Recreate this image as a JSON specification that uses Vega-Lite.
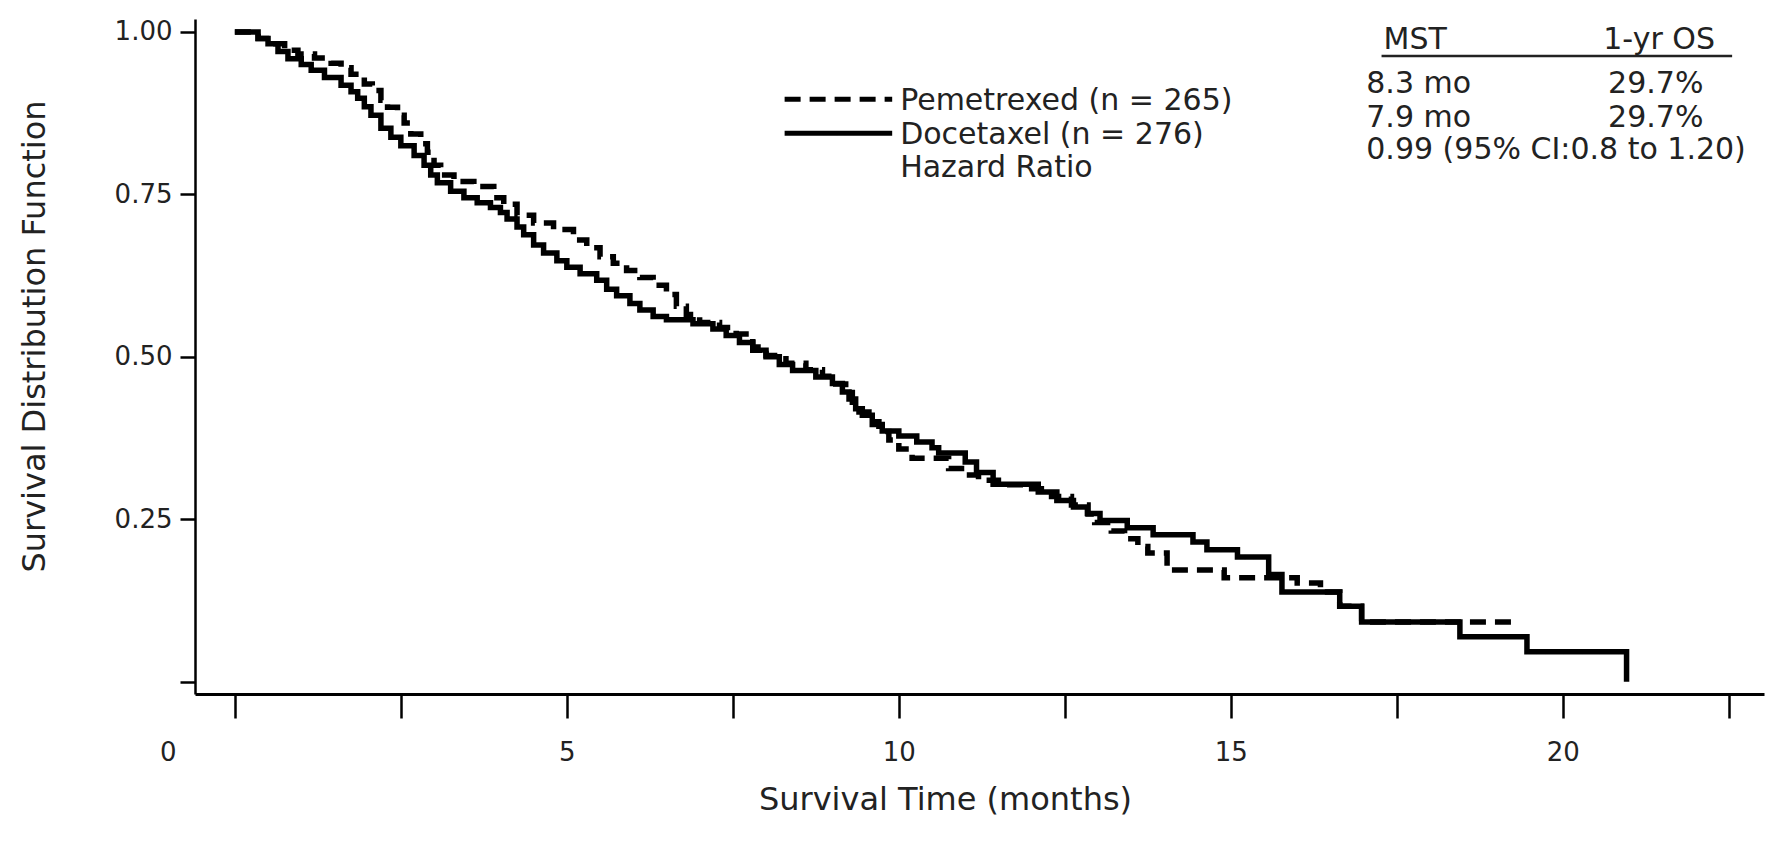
{
"$schema": "https://vega.github.io/schema/vega-lite/v6.json",
"width": 1569, "height": 675,
"autosize": {"type": "none"},
"padding": {"left": 195, "top": 19, "right": 14, "bottom": 154},
"background": "white",
"config": {"view": {"stroke": null}, "font": "DejaVu Sans"},
"datasets": {
"km": [
{"g":"Docetaxel","t":0,"s":1},{"g":"Docetaxel","t":0.35,"s":0.99},{"g":"Docetaxel","t":0.5,"s":0.982},{"g":"Docetaxel","t":0.65,"s":0.97},{"g":"Docetaxel","t":0.8,"s":0.959},{"g":"Docetaxel","t":1.0,"s":0.95},{"g":"Docetaxel","t":1.15,"s":0.941},{"g":"Docetaxel","t":1.35,"s":0.93},{"g":"Docetaxel","t":1.6,"s":0.918},{"g":"Docetaxel","t":1.75,"s":0.908},{"g":"Docetaxel","t":1.85,"s":0.898},{"g":"Docetaxel","t":1.95,"s":0.885},{"g":"Docetaxel","t":2.05,"s":0.872},{"g":"Docetaxel","t":2.2,"s":0.852},{"g":"Docetaxel","t":2.35,"s":0.838},{"g":"Docetaxel","t":2.5,"s":0.825},{"g":"Docetaxel","t":2.7,"s":0.81},{"g":"Docetaxel","t":2.85,"s":0.795},{"g":"Docetaxel","t":2.95,"s":0.78},{"g":"Docetaxel","t":3.05,"s":0.768},{"g":"Docetaxel","t":3.25,"s":0.755},{"g":"Docetaxel","t":3.45,"s":0.745},{"g":"Docetaxel","t":3.65,"s":0.737},{"g":"Docetaxel","t":3.85,"s":0.73},{"g":"Docetaxel","t":4.0,"s":0.722},{"g":"Docetaxel","t":4.1,"s":0.712},{"g":"Docetaxel","t":4.25,"s":0.7},{"g":"Docetaxel","t":4.35,"s":0.688},{"g":"Docetaxel","t":4.5,"s":0.672},{"g":"Docetaxel","t":4.65,"s":0.66},{"g":"Docetaxel","t":4.85,"s":0.648},{"g":"Docetaxel","t":5.0,"s":0.638},{"g":"Docetaxel","t":5.2,"s":0.628},{"g":"Docetaxel","t":5.45,"s":0.618},{"g":"Docetaxel","t":5.6,"s":0.604},{"g":"Docetaxel","t":5.75,"s":0.594},{"g":"Docetaxel","t":5.95,"s":0.582},{"g":"Docetaxel","t":6.1,"s":0.572},{"g":"Docetaxel","t":6.3,"s":0.562},{"g":"Docetaxel","t":6.5,"s":0.557},{"g":"Docetaxel","t":6.9,"s":0.551},{"g":"Docetaxel","t":7.2,"s":0.543},{"g":"Docetaxel","t":7.4,"s":0.533},{"g":"Docetaxel","t":7.6,"s":0.522},{"g":"Docetaxel","t":7.8,"s":0.51},{"g":"Docetaxel","t":8.0,"s":0.5},{"g":"Docetaxel","t":8.2,"s":0.488},{"g":"Docetaxel","t":8.4,"s":0.479},{"g":"Docetaxel","t":8.75,"s":0.469},{"g":"Docetaxel","t":9.0,"s":0.459},{"g":"Docetaxel","t":9.15,"s":0.446},{"g":"Docetaxel","t":9.25,"s":0.435},{"g":"Docetaxel","t":9.35,"s":0.42},{"g":"Docetaxel","t":9.45,"s":0.41},{"g":"Docetaxel","t":9.6,"s":0.396},{"g":"Docetaxel","t":9.75,"s":0.386},{"g":"Docetaxel","t":10.0,"s":0.378},{"g":"Docetaxel","t":10.27,"s":0.369},{"g":"Docetaxel","t":10.5,"s":0.36},{"g":"Docetaxel","t":10.6,"s":0.352},{"g":"Docetaxel","t":11.0,"s":0.338},{"g":"Docetaxel","t":11.17,"s":0.322},{"g":"Docetaxel","t":11.42,"s":0.304},{"g":"Docetaxel","t":12.1,"s":0.292},{"g":"Docetaxel","t":12.38,"s":0.279},{"g":"Docetaxel","t":12.63,"s":0.269},{"g":"Docetaxel","t":12.84,"s":0.259},{"g":"Docetaxel","t":13.03,"s":0.248},{"g":"Docetaxel","t":13.44,"s":0.237},{"g":"Docetaxel","t":13.83,"s":0.226},{"g":"Docetaxel","t":14.43,"s":0.215},{"g":"Docetaxel","t":14.64,"s":0.203},{"g":"Docetaxel","t":15.1,"s":0.192},{"g":"Docetaxel","t":15.57,"s":0.165},{"g":"Docetaxel","t":15.77,"s":0.138},{"g":"Docetaxel","t":16.64,"s":0.116},{"g":"Docetaxel","t":16.97,"s":0.092},{"g":"Docetaxel","t":18.45,"s":0.069},{"g":"Docetaxel","t":19.46,"s":0.046},{"g":"Docetaxel","t":20.96,"s":0.0},
{"g":"Pemetrexed","t":0,"s":1},{"g":"Pemetrexed","t":0.35,"s":0.99},{"g":"Pemetrexed","t":0.55,"s":0.982},{"g":"Pemetrexed","t":0.75,"s":0.972},{"g":"Pemetrexed","t":0.95,"s":0.966},{"g":"Pemetrexed","t":1.2,"s":0.96},{"g":"Pemetrexed","t":1.45,"s":0.952},{"g":"Pemetrexed","t":1.6,"s":0.945},{"g":"Pemetrexed","t":1.75,"s":0.935},{"g":"Pemetrexed","t":1.95,"s":0.92},{"g":"Pemetrexed","t":2.07,"s":0.91},{"g":"Pemetrexed","t":2.2,"s":0.895},{"g":"Pemetrexed","t":2.3,"s":0.884},{"g":"Pemetrexed","t":2.45,"s":0.872},{"g":"Pemetrexed","t":2.55,"s":0.86},{"g":"Pemetrexed","t":2.65,"s":0.843},{"g":"Pemetrexed","t":2.8,"s":0.828},{"g":"Pemetrexed","t":2.9,"s":0.815},{"g":"Pemetrexed","t":3.0,"s":0.795},{"g":"Pemetrexed","t":3.1,"s":0.78},{"g":"Pemetrexed","t":3.3,"s":0.77},{"g":"Pemetrexed","t":3.6,"s":0.762},{"g":"Pemetrexed","t":3.9,"s":0.745},{"g":"Pemetrexed","t":4.05,"s":0.735},{"g":"Pemetrexed","t":4.25,"s":0.718},{"g":"Pemetrexed","t":4.5,"s":0.706},{"g":"Pemetrexed","t":4.8,"s":0.696},{"g":"Pemetrexed","t":5.1,"s":0.68},{"g":"Pemetrexed","t":5.3,"s":0.668},{"g":"Pemetrexed","t":5.5,"s":0.654},{"g":"Pemetrexed","t":5.7,"s":0.644},{"g":"Pemetrexed","t":5.9,"s":0.633},{"g":"Pemetrexed","t":6.1,"s":0.622},{"g":"Pemetrexed","t":6.3,"s":0.61},{"g":"Pemetrexed","t":6.5,"s":0.596},{"g":"Pemetrexed","t":6.65,"s":0.578},{"g":"Pemetrexed","t":6.8,"s":0.565},{"g":"Pemetrexed","t":7.0,"s":0.553},{"g":"Pemetrexed","t":7.3,"s":0.545},{"g":"Pemetrexed","t":7.55,"s":0.535},{"g":"Pemetrexed","t":7.8,"s":0.515},{"g":"Pemetrexed","t":8.0,"s":0.502},{"g":"Pemetrexed","t":8.3,"s":0.49},{"g":"Pemetrexed","t":8.6,"s":0.48},{"g":"Pemetrexed","t":8.85,"s":0.47},{"g":"Pemetrexed","t":9.05,"s":0.458},{"g":"Pemetrexed","t":9.2,"s":0.445},{"g":"Pemetrexed","t":9.3,"s":0.43},{"g":"Pemetrexed","t":9.4,"s":0.415},{"g":"Pemetrexed","t":9.55,"s":0.4},{"g":"Pemetrexed","t":9.7,"s":0.385},{"g":"Pemetrexed","t":9.85,"s":0.372},{"g":"Pemetrexed","t":10.0,"s":0.358},{"g":"Pemetrexed","t":10.2,"s":0.344},{"g":"Pemetrexed","t":10.75,"s":0.328},{"g":"Pemetrexed","t":11.0,"s":0.318},{"g":"Pemetrexed","t":11.2,"s":0.31},{"g":"Pemetrexed","t":11.5,"s":0.303},{"g":"Pemetrexed","t":12.0,"s":0.297},{"g":"Pemetrexed","t":12.3,"s":0.285},{"g":"Pemetrexed","t":12.6,"s":0.272},{"g":"Pemetrexed","t":12.85,"s":0.258},{"g":"Pemetrexed","t":12.95,"s":0.245},{"g":"Pemetrexed","t":13.2,"s":0.232},{"g":"Pemetrexed","t":13.4,"s":0.22},{"g":"Pemetrexed","t":13.6,"s":0.208},{"g":"Pemetrexed","t":13.75,"s":0.198},{"g":"Pemetrexed","t":14.04,"s":0.172},{"g":"Pemetrexed","t":14.9,"s":0.16},{"g":"Pemetrexed","t":16.0,"s":0.152},{"g":"Pemetrexed","t":16.35,"s":0.138},{"g":"Pemetrexed","t":16.64,"s":0.116},{"g":"Pemetrexed","t":16.97,"s":0.092},{"g":"Pemetrexed","t":19.35,"s":0.092}
],
"legendLines": [
{"g":"Pemetrexed","x1":8.28,"x2":9.9,"y":0.8966},
{"g":"Docetaxel","x1":8.28,"x2":9.9,"y":0.8443}
],
"textLeft": [
{"x":10.02,"y":0.894,"label":"Pemetrexed (n = 265)"},
{"x":10.02,"y":0.8417,"label":"Docetaxel (n = 276)"},
{"x":10.02,"y":0.791,"label":"Hazard Ratio"},
{"x":17.3,"y":0.9875,"label":"MST"},
{"x":17.04,"y":0.9195,"label":"8.3 mo"},
{"x":17.04,"y":0.867,"label":"7.9 mo"},
{"x":17.04,"y":0.818,"label":"0.99 (95% CI:0.8 to 1.20)"}
],
"textCenter": [
{"x":21.45,"y":0.9875,"label":"1-yr OS"},
{"x":21.4,"y":0.9195,"label":"29.7%"},
{"x":21.4,"y":0.867,"label":"29.7%"}
],
"underline": [
{"x1":17.27,"x2":22.55,"y":0.963}
]
},
"layer": [
{
"data": {"name": "km"},
"mark": {"type": "line", "interpolate": "step-after", "strokeWidth": 5.5, "color": "#000", "strokeCap": "butt", "strokeJoin": "miter"},
"encoding": {
"x": {"field": "t", "type": "quantitative", "title": "Survival Time (months)", "scale": {"domain": [-0.6, 23.03], "nice": false, "zero": false},
"axis": {"values": [0, 2.5, 5, 7.5, 10, 12.5, 15, 17.5, 20, 22.5],
"labelExpr": "datum.value % 5 === 0 ? '' + datum.value : ''",
"labelOffset": {"condition": {"test": "datum.value === 0", "value": -67}, "value": 0},
"grid": false, "tickSize": 24, "tickWidth": 2.5, "tickColor": "#000", "domainColor": "#000", "domainWidth": 3,
"labelFontSize": 26, "labelColor": "#222", "labelPadding": 21, "labelFont": "DejaVu Sans", "labelFlush": false, "labelOverlap": false,
"titleFont": "DejaVu Sans", "titleFontSize": 32, "titleFontWeight": "normal", "titleColor": "#222",
"titleX": 750, "titleY": 105, "titleBaseline": "middle", "titleAlign": "center"}},
"y": {"field": "s", "type": "quantitative", "title": "Survival Distribution Function", "scale": {"domain": [-0.019, 1.02], "nice": false, "zero": false},
"axis": {"values": [0, 0.25, 0.5, 0.75, 1],
"labelExpr": "datum.value === 0 ? '' : format(datum.value, '.2f')",
"grid": false, "tickSize": 15, "tickWidth": 2.5, "tickColor": "#000", "domainColor": "#000", "domainWidth": 2.5,
"labelFontSize": 26, "labelColor": "#222", "labelPadding": 8, "labelFont": "DejaVu Sans", "labelOverlap": false,
"titleFont": "DejaVu Sans", "titleFontSize": 32, "titleFontWeight": "normal", "titleColor": "#222",
"titleX": -161, "titleY": 317, "titleAngle": -90, "titleBaseline": "middle", "titleAlign": "center"}},
"detail": {"field": "g"},
"strokeDash": {"field": "g", "type": "nominal", "scale": {"domain": ["Pemetrexed", "Docetaxel"], "range": [[16, 9], [1, 0]]}, "legend": null}
}
},
{
"data": {"name": "legendLines"},
"mark": {"type": "rule", "strokeWidth": 5, "color": "#000", "strokeCap": "butt"},
"encoding": {
"x": {"field": "x1", "type": "quantitative", "title": "Survival Time (months)"},
"x2": {"field": "x2"},
"y": {"field": "y", "type": "quantitative", "title": "Survival Distribution Function"},
"strokeDash": {"field": "g", "type": "nominal", "legend": null}
}
},
{
"data": {"name": "underline"},
"mark": {"type": "rule", "strokeWidth": 2.5, "color": "#222"},
"encoding": {
"x": {"field": "x1", "type": "quantitative", "title": "Survival Time (months)"},
"x2": {"field": "x2"},
"y": {"field": "y", "type": "quantitative", "title": "Survival Distribution Function"}
}
},
{
"data": {"name": "textLeft"},
"mark": {"type": "text", "align": "left", "baseline": "middle", "fontSize": 30, "font": "DejaVu Sans", "color": "#222"},
"encoding": {
"x": {"field": "x", "type": "quantitative", "title": "Survival Time (months)"},
"y": {"field": "y", "type": "quantitative", "title": "Survival Distribution Function"},
"text": {"field": "label"}
}
},
{
"data": {"name": "textCenter"},
"mark": {"type": "text", "align": "center", "baseline": "middle", "fontSize": 30, "font": "DejaVu Sans", "color": "#222"},
"encoding": {
"x": {"field": "x", "type": "quantitative", "title": "Survival Time (months)"},
"y": {"field": "y", "type": "quantitative", "title": "Survival Distribution Function"},
"text": {"field": "label"}
}
}
]
}
